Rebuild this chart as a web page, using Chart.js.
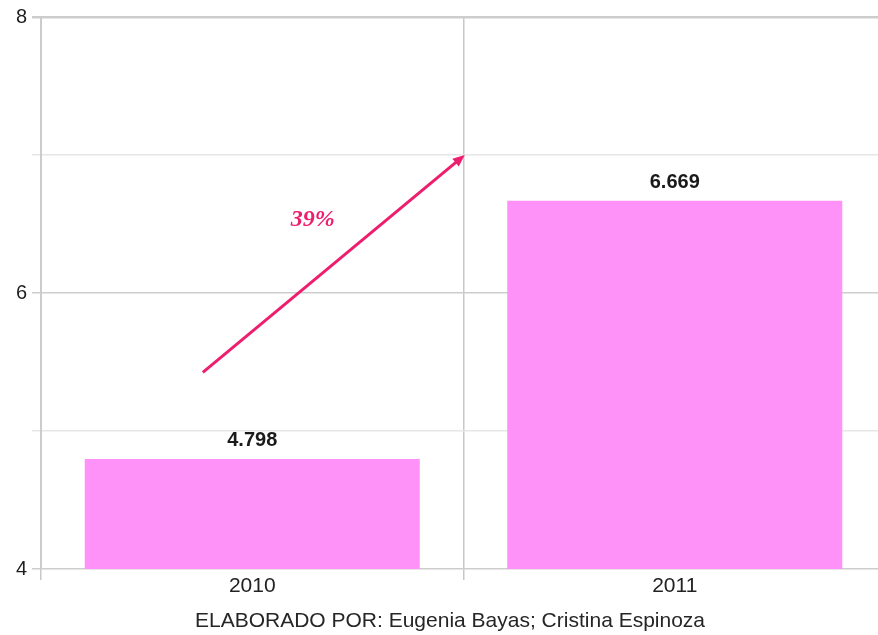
<!DOCTYPE html>
<html>
<head>
<meta charset="utf-8">
<script src="https://cdn.jsdelivr.net/npm/chart.js@4.4.0/dist/chart.umd.min.js"></script>
<style>
  html, body { margin: 0; padding: 0; background: #fff; overflow: hidden; }
  #wrap { width: 886px; height: 635px; }
</style>
</head>
<body>
<div id="wrap"><canvas id="c" width="886" height="635"></canvas></div>
<script>
// Categories and values
const years = ['2010', '2011'];
const values = [4.798, 6.669];
const yTicks = [4, 6, 8];
const footer = 'ELABORADO POR: Eugenia Bayas; Cristina Espinoza';

// Growth annotation (data units: x = category index, y = value)
const growthLabel = '39%';
const arrowFrom = { x: -0.117, y: 5.425 };
const arrowTo = { x: 0.503, y: 7.0 };
const growthLabelAt = { x: 0.143, y: 6.53 };

const BAR = '#FF92F8';
const ACCENT = '#EE1E6E';

const valueLabels = {
  id: 'valueLabels',
  afterDatasetsDraw(chart) {
    const ctx = chart.ctx;
    const meta = chart.getDatasetMeta(0);
    ctx.save();
    ctx.font = 'bold 20px "Liberation Sans", Arial, sans-serif';
    ctx.fillStyle = '#1a1a1a';
    ctx.textAlign = 'center';
    ctx.textBaseline = 'alphabetic';
    meta.data.forEach((bar, i) => {
      ctx.fillText(values[i].toFixed(3), bar.x, bar.y - 13);
    });
    ctx.restore();
  }
};

const growthArrow = {
  id: 'growthArrow',
  afterDatasetsDraw(chart) {
    const { ctx, scales: { x, y } } = chart;
    const x0 = x.getPixelForValue(arrowFrom.x), y0 = y.getPixelForValue(arrowFrom.y);
    const x1 = x.getPixelForValue(arrowTo.x), y1 = y.getPixelForValue(arrowTo.y);
    const ang = Math.atan2(y1 - y0, x1 - x0);
    const head = 13;
    ctx.save();
    ctx.strokeStyle = ACCENT;
    ctx.fillStyle = ACCENT;
    ctx.lineWidth = 3;
    ctx.beginPath();
    ctx.moveTo(x0, y0);
    ctx.lineTo(x1 - Math.cos(ang) * head * 0.8, y1 - Math.sin(ang) * head * 0.8);
    ctx.stroke();
    ctx.beginPath();
    ctx.moveTo(x1, y1);
    ctx.lineTo(x1 - head * Math.cos(ang - 0.4), y1 - head * Math.sin(ang - 0.4));
    ctx.lineTo(x1 - head * Math.cos(ang + 0.4), y1 - head * Math.sin(ang + 0.4));
    ctx.closePath();
    ctx.fill();
    ctx.font = 'bold italic 24px "Liberation Serif", "Times New Roman", serif';
    ctx.textAlign = 'center';
    ctx.textBaseline = 'middle';
    ctx.fillText(growthLabel, x.getPixelForValue(growthLabelAt.x), y.getPixelForValue(growthLabelAt.y));
    ctx.restore();
  }
};

// Source line under the axis
const footerNote = {
  id: 'footerNote',
  afterDraw(chart) {
    const ctx = chart.ctx;
    ctx.save();
    ctx.font = '21px "Liberation Sans", Arial, sans-serif';
    ctx.fillStyle = '#262626';
    ctx.textAlign = 'center';
    ctx.textBaseline = 'middle';
    ctx.fillText(footer, chart.width / 2 + 7, chart.height - 14);
    ctx.restore();
  }
};

new Chart(document.getElementById('c'), {
  type: 'bar',
  data: {
    labels: years,
    datasets: [{
      data: values,
      backgroundColor: BAR,
      borderWidth: 0,
      barPercentage: 0.793,
      categoryPercentage: 1.0
    }]
  },
  options: {
    responsive: false,
    animation: false,
    layout: { padding: { top: 16, right: 0, left: 0, bottom: 0 } },
    plugins: { legend: { display: false }, tooltip: { enabled: false } },
    scales: {
      x: {
        offset: true,
        grid: {
          offset: true,
          color: '#c8c8c8',
          lineWidth: 1.5,
          tickLength: 11,
          drawTicks: true
        },
        border: { display: false },
        ticks: {
          color: '#222',
          font: { size: 21, family: '"Liberation Sans", Arial, sans-serif' },
          padding: -6
        },
        afterFit(scale) { scale.height = 66; }
      },
      y: {
        min: 4,
        max: 8,
        grid: {
          color: (c) => (c.tick && c.tick.value % 2 === 0) ? '#cdcdcd' : '#e6e6e6',
          lineWidth: (c) => (c.tick && c.tick.value === 8) ? 2.5 : 1.5,
          tickLength: 9
        },
        border: { display: true, color: '#cccccc', width: 2 },
        ticks: {
          stepSize: 1,
          color: '#1e1e1e',
          padding: 5,
          font: { size: 20, family: '"Liberation Sans", Arial, sans-serif' },
          callback: (v) => yTicks.includes(v) ? String(v) : ''
        },
        afterFit(scale) { scale.width = 41; }
      }
    }
  },
  plugins: [valueLabels, growthArrow, footerNote]
});
</script>
</body>
</html>
